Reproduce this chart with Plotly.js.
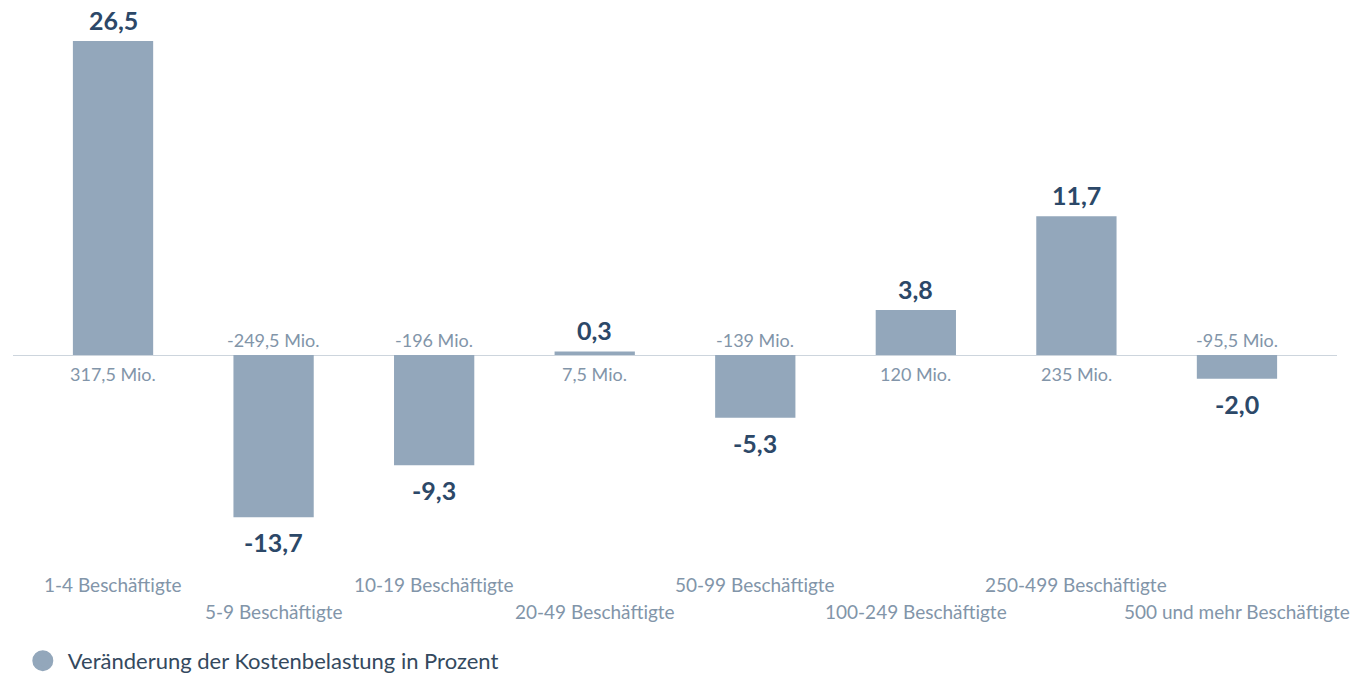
<!DOCTYPE html>
<html>
<head>
<meta charset="utf-8">
<script src="https://cdn.plot.ly/plotly-3.0.1.min.js"></script>
<style>html,body{margin:0;padding:0;background:#fff}#chart{width:1370px;height:673px}</style>
</head>
<body>
<div id="chart"></div>
<script>
const categories = ["1-4 Beschäftigte","5-9 Beschäftigte","10-19 Beschäftigte","20-49 Beschäftigte","50-99 Beschäftigte","100-249 Beschäftigte","250-499 Beschäftigte","500 und mehr Beschäftigte"];
const percentChange = [26.5, -13.7, -9.3, 0.3, -5.3, 3.8, 11.7, -2.0];
const millions = [317.5, -249.5, -196, 7.5, -139, 120, 235, -95.5];
const seriesName = "Veränderung der Kostenbelastung in Prozent";

const FONT = "Source Sans Pro, Lato, sans-serif";
const BAR = "#93a7bb";
const DARK = "#2c4868";
const GREY = "#8295a9";

function fmt(v, d){ return v.toFixed(d).replace('.', ','); }
function fmtM(v){ return (Number.isInteger(v) ? String(v) : fmt(v,1)) + " Mio."; }

const idx = categories.map((c,i)=>i);
const annotations = [];
idx.forEach(i=>{
  const v = percentChange[i];
  const pos = v >= 0;
  annotations.push({x:i, y:v, xref:'x', yref:'y', text:fmt(v,1), showarrow:false,
    yanchor: pos?'bottom':'top', yshift: pos?4:-8,
    font:{family:FONT, size:25, color:DARK, weight:700}});
  annotations.push({x:i, y:0, xref:'x', yref:'y', text:fmtM(millions[i]), showarrow:false,
    yanchor: pos?'top':'bottom', yshift: pos?-6:2,
    font:{family:FONT, size:18, color:GREY}});
  annotations.push({x:i, y:0, xref:'x', yref:'paper', text:categories[i], showarrow:false,
    yanchor:'middle', yshift: (i%2===0)? -19 : -46,
    font:{family:FONT, size:19, color:GREY}});
});

const traces = [
  {type:'bar', x:idx, y:percentChange, width:0.5, marker:{color:BAR}, showlegend:false, hoverinfo:'skip'},
  {type:'scatter', mode:'markers', x:[null], y:[null], name:seriesName,
   marker:{symbol:'circle', size:16, color:BAR, line:{color:BAR, width:5}}, showlegend:true, hoverinfo:'skip'}
];

const layout = {
  width:1370, height:673,
  margin:{l:13, r:33, t:15, b:108},
  paper_bgcolor:'#fff', plot_bgcolor:'#fff',
  font:{family:FONT, color:GREY},
  xaxis:{range:[-0.623, 7.623], showticklabels:false, showgrid:false, zeroline:false, showline:false, ticks:''},
  yaxis:{range:[-17.72, 28.69], showticklabels:false, showgrid:false, zeroline:true, zerolinecolor:'#cdd5dd', zerolinewidth:1, showline:false, ticks:''},
  showlegend:true,
  legend:{orientation:'h', xref:'container', yref:'container', x:0.013, xanchor:'left', y:0.018, yanchor:'middle', itemwidth:40,
    font:{family:FONT, size:22, color:'#34495e'}, bgcolor:'rgba(0,0,0,0)'},
  annotations:annotations,
  hovermode:false
};

Plotly.newPlot('chart', traces, layout, {displayModeBar:false, staticPlot:true});
</script>
</body>
</html>
